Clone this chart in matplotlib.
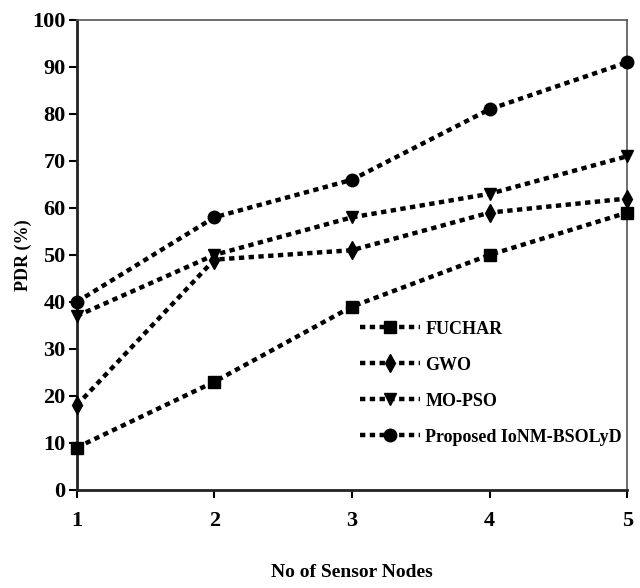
import matplotlib.pyplot as plt

nodes = [1, 2, 3, 4, 5]
fuchar = [9, 23, 39, 50, 59]
gwo = [18, 49, 51, 59, 62]
mo_pso = [37, 50, 58, 63, 71]
proposed = [40, 58, 66, 81, 91]

labels = ['FUCHAR', 'GWO', 'MO-PSO', 'Proposed IoNM-BSOLyD']
series = [fuchar, gwo, mo_pso, proposed]
markers = ['s', 'd', 'v', 'o']

plt.rcParams['font.family'] = ['Liberation Serif', 'DejaVu Serif']
plt.rcParams['font.weight'] = 'bold'

fig = plt.figure(figsize=(6.4, 5.88), dpi=100)
ax = fig.add_axes([0.12, 0.167, 0.86, 0.799])

for vals, m, lab in zip(series, markers, labels):
    ax.plot(nodes, vals, color='black', linestyle=(0, (1.2, 1.0)), linewidth=3.2,
            marker=m, markersize=9, label=lab, clip_on=False, zorder=3)

ax.set_xlim(1, 5)
ax.set_ylim(0, 100)
ax.set_xticks(nodes)
ax.set_yticks(range(0, 101, 10))
ax.tick_params(axis='both', direction='out', length=6, width=1.5, labelsize=16)
ax.tick_params(axis='y', pad=2)
ax.tick_params(axis='x', pad=9)

for s in ['left', 'bottom']:
    ax.spines[s].set_linewidth(2)
    ax.spines[s].set_color('#222222')
for s in ['top', 'right']:
    ax.spines[s].set_linewidth(1.2)
    ax.spines[s].set_color('#555555')

ax.set_xlabel('No of Sensor Nodes', fontsize=14, fontweight='bold', labelpad=24)
ax.set_ylabel('PDR (%)', fontsize=13, fontweight='bold', labelpad=0)

leg = ax.legend(loc='upper left', bbox_to_anchor=(0.515, 0.36), frameon=False,
                fontsize=13, handlelength=3.3, labelspacing=1.05, handletextpad=0.3,
                borderpad=0, borderaxespad=0)

plt.savefig('out.png')
